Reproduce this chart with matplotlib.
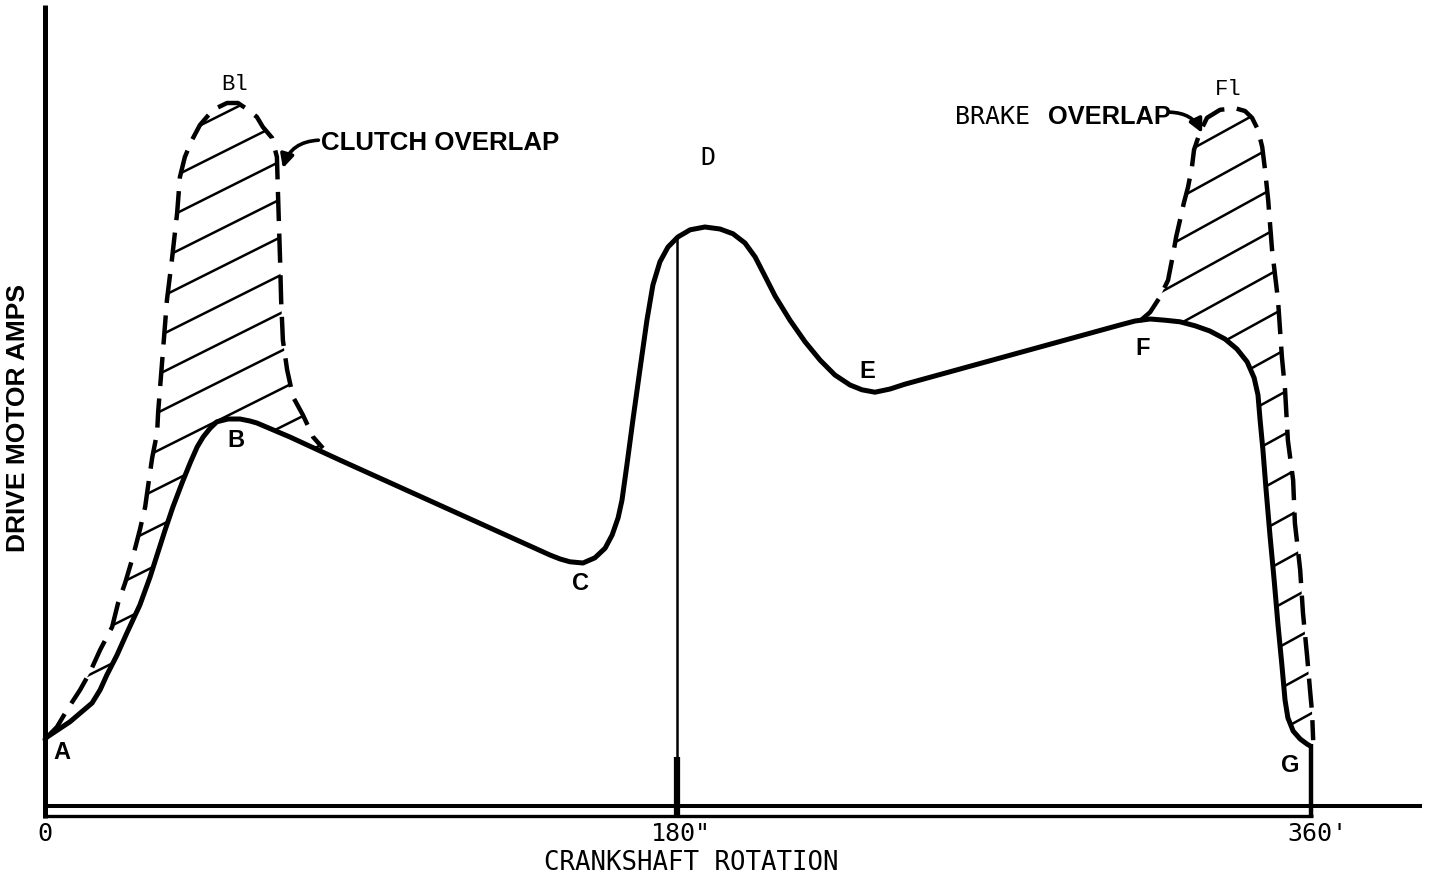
import numpy as np
import matplotlib
matplotlib.use("Agg")
import matplotlib.pyplot as plt
from matplotlib.patches import Polygon

plt.rcParams['lines.scale_dashes'] = False

# ---------------- data (crank angle in degrees, motor current in relative amps) -------------
main_deg = [0.0, 0.6, 7.1, 13.4, 15.7, 17.6, 20.5, 23.3, 27.0, 29.9, 31.9, 34.2, 36.4, 39.0,
            41.3, 43.3, 45.0, 47.0, 48.9, 52.1, 55.5, 58.3, 60.3, 69.7, 84.0,
            143.7, 146.6, 149.4, 153.1, 156.5, 159.4, 161.4, 163.1, 164.2, 165.6, 167.3,
            169.3, 171.3, 173.0, 175.0, 177.3, 180.1, 183.6, 187.8, 192.1, 195.8, 199.2,
            202.1, 204.9, 207.8, 212.0, 216.3, 220.6, 224.8, 229.1, 232.5, 236.2, 240.5,
            244.7, 305.9, 310.2, 314.5, 318.7, 323.0, 327.3, 331.5, 335.8, 339.2, 342.1,
            344.1, 345.2, 345.8, 346.6, 347.5, 348.6, 349.8, 350.9, 352.0, 352.9, 353.7,
            355.2, 357.2, 359.2, 360.0]
main_amps = [8.2, 8.5, 10.4, 12.75, 14.4, 16.25, 18.75, 21.5, 25.0, 28.5, 31.25, 34.4, 37.25, 40.25,
             42.75, 44.75, 46.0, 47.1, 47.9, 48.25, 48.25, 48.0, 47.75, 46.0, 43.1,
             31.25, 30.75, 30.4, 30.25, 30.9, 32.1, 33.75, 35.9, 38.1, 42.5, 48.1,
             54.4, 60.6, 65.0, 67.9, 69.75, 71.0, 71.9, 72.25, 72.0, 71.4, 70.25,
             68.5, 66.1, 63.6, 60.6, 57.9, 55.6, 53.75, 52.5, 51.9, 51.6, 52.0,
             52.6, 60.0, 60.5, 60.75, 60.6, 60.4, 59.9, 59.25, 58.25, 57.0, 55.4,
             53.4, 51.25, 48.1, 44.4, 39.4, 33.75, 28.1, 22.5, 17.5, 13.1, 10.9,
             9.25, 8.25, 7.6, 7.4]

clutch_deg = [0.6, 3.4, 6.3, 10.0, 12.8, 15.7, 19.1, 20.8, 22.8, 25.0, 27.0, 28.5, 29.3, 30.5,
              31.9, 32.2, 32.7, 33.6, 34.7, 36.1, 37.6, 38.4, 39.8, 41.8, 44.1, 47.8, 51.8,
              54.9, 57.8, 60.3, 62.0, 64.6, 66.0, 66.3, 66.6, 66.9, 67.2, 67.7, 68.9, 70.6,
              73.4, 76.3, 79.1]
clutch_amps = [8.5, 9.75, 11.9, 14.4, 16.6, 19.4, 22.25, 25.25, 27.75, 31.0, 34.4, 37.25, 39.75, 43.4,
               46.5, 49.1, 51.9, 56.9, 63.1, 68.1, 74.0, 78.5, 81.0, 83.1, 85.0, 86.9, 87.75,
               87.75, 86.9, 86.0, 84.75, 83.4, 81.0, 76.5, 72.25, 68.1, 63.1, 58.1, 54.4, 51.0,
               48.75, 46.0, 44.6]

brake_deg = [311.6, 314.5, 317.3, 319.6, 321.0, 321.9, 323.0, 324.1, 325.3, 326.4, 327.0, 328.7,
             330.7, 334.4, 338.7, 341.5, 343.5, 345.2, 346.4, 347.2, 348.1, 349.2, 350.9, 352.0,
             352.9, 353.7, 355.2, 355.7, 357.2, 358.0, 359.2, 360.0, 360.6, 360.9]
brake_amps = [60.5, 61.6, 63.5, 65.6, 68.75, 71.0, 73.1, 75.25, 77.25, 79.75, 81.9, 84.1,
              85.9, 86.9, 87.1, 86.75, 85.9, 84.4, 82.25, 79.4, 75.6, 69.4, 63.1, 56.0,
              51.9, 45.6, 40.6, 35.25, 29.4, 24.0, 18.5, 14.4, 11.5, 8.1]

tick_deg = [0, 180, 360]
tick_labels = ['0', '180"', "360'"]
point_names = ['A', 'B', 'C', 'E', 'F', 'G']
point_deg = [4.8, 54.4, 152.3, 233.9, 312.5, 354.3]
point_amps = [6.6, 45.6, 27.75, 54.25, 57.1, 5.0]
peak_names = ['Bl', 'Fl']
peak_deg = [54.1, 336.7]
peak_amps = [90.0, 89.4]

# ---------------- layout ---------------------------------------------------------------
W, H = 1431, 876
PX_PER_DEG = 1265 / 360.0
PX_PER_AMP = 8.0
X0, Y0 = 45, 805          # pixel position of the origin (from the top-left corner)

fig = plt.figure(figsize=(W / 100, H / 100), dpi=100)
ax = fig.add_axes([0, 0, 1, 1])
ax.set_xlim(-X0 / PX_PER_DEG, (W - X0) / PX_PER_DEG)
ax.set_ylim(-(H - Y0) / PX_PER_AMP, Y0 / PX_PER_AMP)
ax.set_autoscale_on(False)
ax.axis('off')

K = 'black'

# axes frame (hand drawn look)
ax.plot([0, 0], [-1.6, 100], color=K, lw=3.6, solid_capstyle='butt')
ax.plot([0, 391.9], [-0.1, -0.1], color=K, lw=2.9, solid_capstyle='butt')
ax.plot([-0.6, 360.9], [-1.4, -1.4], color=K, lw=2.4, solid_capstyle='butt')
# 180 deg marker line
ax.plot([180, 180], [-1.5, 71.0], color=K, lw=1.8, solid_capstyle='butt')
ax.plot([180, 180], [-1.5, 6.0], color=K, lw=4.5, solid_capstyle='butt')
# 360 deg closing line (G)
ax.plot([360.2, 360.2], [-1.5, 7.6], color=K, lw=3.2, solid_capstyle='butt')

# main current curve
ax.plot(main_deg, main_amps, color=K, lw=3.6, solid_joinstyle='round', solid_capstyle='round')

# overlap envelopes (dashed)
ax.plot(clutch_deg, clutch_amps, color=K, lw=3.2, dashes=(21, 9))
ax.plot(brake_deg, brake_amps, color=K, lw=3.2, dashes=(21, 9))


def hatch_region(bx, by, cx, cy, slope, spacing, phase, lw=1.8):
    verts = list(zip(bx, by)) + list(zip(cx[::-1], cy[::-1]))
    poly = Polygon(verts, closed=True, facecolor='none', edgecolor='none',
                   transform=ax.transData)
    ax.add_patch(poly)
    inv = ax.transData.inverted()
    for c in np.arange(phase - 40 * spacing, phase + 40 * spacing, spacing):
        p = np.array([[0.0, c], [W, slope * W + c]])
        d = inv.transform(p)
        ln, = ax.plot(d[:, 0], d[:, 1], color=K, lw=lw, solid_capstyle='butt')
        ln.set_clip_path(poly)


md = np.array(main_deg)
ma = np.array(main_amps)
sel1 = md <= 84.1
hatch_region(clutch_deg, clutch_amps, list(md[sel1]), list(ma[sel1]), 0.5, 38, 574.5)
sel2 = md >= 310.0
hatch_region(brake_deg, brake_amps, list(md[sel2]), list(ma[sel2]), 0.55, 42, -222.6)

# ---------------- text -----------------------------------------------------------------
mono = 'DejaVu Sans Mono'
bold = 'Liberation Sans'

ax.text(tick_deg[0], -3.6, tick_labels[0], family=mono, fontsize=18, ha='center', va='center')
ax.text(172.5, -3.6, tick_labels[1], family=mono, fontsize=18, ha='left', va='center')
ax.text(353.5, -3.6, tick_labels[2], family=mono, fontsize=18, ha='left', va='center')
ax.text(183.8, -7.3, 'CRANKSHAFT ROTATION', family=mono, fontsize=18.5, ha='center', va='center')
ax.text(-7.7, 48.4, 'DRIVE MOTOR AMPS', family=bold, weight='bold', fontsize=19,
        rotation=90, ha='center', va='center')

for n, x, y in zip(point_names, point_deg, point_amps):
    ax.text(x, y, n, family=bold, weight='bold', fontsize=17, ha='center', va='center')
for n, x, y in zip(peak_names, peak_deg, peak_amps):
    ax.text(x, y, n, family='Liberation Mono', fontsize=16, ha='center', va='center')
ax.text(188.7, 80.9, 'D', family=mono, fontsize=18, ha='center', va='center')

ax.text(78.6, 82.75, 'CLUTCH OVERLAP', family=bold, weight='bold', fontsize=18.6,
        ha='left', va='center')
ax.text(259.0, 86.0, 'BRAKE', family=mono, fontsize=18, ha='left', va='center')
ax.text(285.4, 86.0, 'OVERLAP', family=bold, weight='bold', fontsize=18.3, ha='left', va='center')

ax.annotate('', xy=(67.7, 79.6), xytext=(77.8, 83.1),
            arrowprops=dict(arrowstyle='-|>,head_length=0.8,head_width=0.4', color=K, lw=2.6,
                            connectionstyle='arc3,rad=0.35', shrinkA=0, shrinkB=0))
ax.annotate('', xy=(329.3, 84.0), xytext=(320.2, 86.6),
            arrowprops=dict(arrowstyle='-|>,head_length=0.8,head_width=0.4', color=K, lw=2.6,
                            connectionstyle='arc3,rad=-0.3', shrinkA=0, shrinkB=0))

fig.savefig('out.png', dpi=100, facecolor='white')
